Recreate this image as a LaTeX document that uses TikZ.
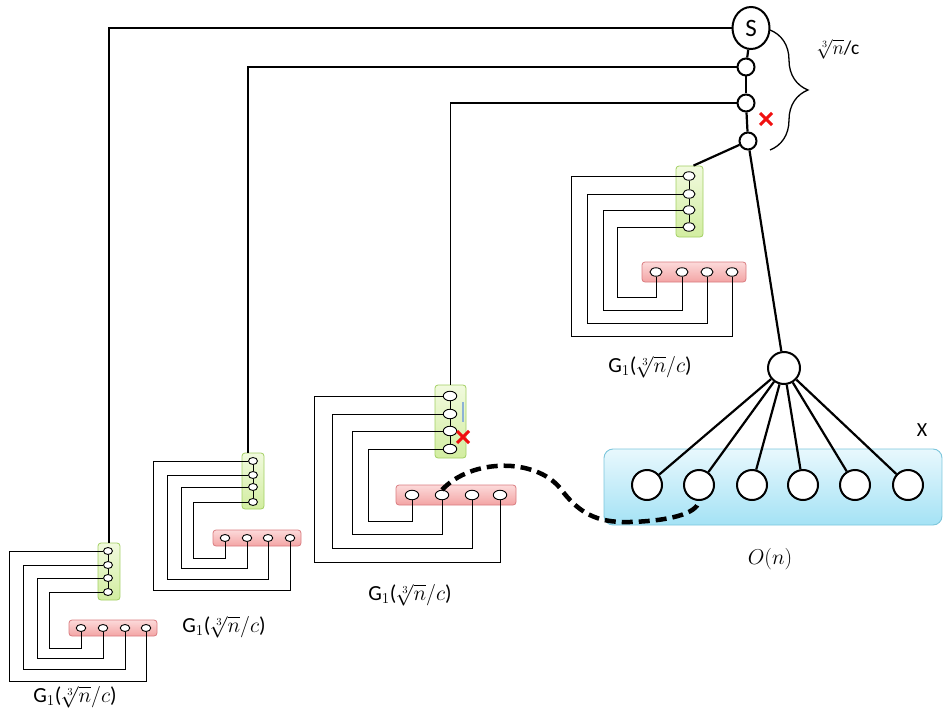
\documentclass[tikz,border=0pt]{standalone}
\usepackage{fix-cm}
\usepackage{fontspec}
\setmainfont{Carlito}
\usetikzlibrary{shapes.geometric,shapes.misc,decorations.pathreplacing}
\definecolor{gfillA}{HTML}{F1FADE}
\definecolor{gfillB}{HTML}{D2EDA0}
\definecolor{gdraw}{HTML}{A2CF62}
\definecolor{rfillA}{HTML}{FCDADA}
\definecolor{rfillB}{HTML}{F3A4A4}
\definecolor{rdraw}{HTML}{D97C80}
\definecolor{bfillA}{HTML}{E8F8FD}
\definecolor{bfillB}{HTML}{A4E2F5}
\definecolor{bdraw}{HTML}{7CC6DC}
\definecolor{xred}{HTML}{F01010}
\definecolor{thinblue}{HTML}{8EB2D6}
\tikzset{
  gbox/.style={draw=gdraw, top color=gfillA, bottom color=gfillB, rounded corners=3pt, line width=0.8pt, inner sep=0pt},
  rbox/.style={draw=rdraw, top color=rfillA, bottom color=rfillB, rounded corners=3pt, line width=0.8pt, inner sep=0pt},
  bbox/.style={draw=bdraw, top color=bfillA, bottom color=bfillB, rounded corners=9pt, line width=0.9pt, inner sep=0pt},
  ell/.style={ellipse, draw=black, fill=white, line width=0.9pt, inner sep=0pt},
  bigc/.style={circle, draw=black, fill=white, line width=2pt, inner sep=0pt},
  thinl/.style={line width=0.9pt, black},
  thickl/.style={line width=2.2pt, black},
  xmark/.style={cross out, draw=xred, line width=3pt, minimum size=9pt, inner sep=0pt},
  lbl/.style={font=\fontsize{21.5}{24}\selectfont, inner sep=0pt},
}
\begin{document}
\begin{tikzpicture}[x=1pt,y=-1pt]
\useasboundingbox (0,0) rectangle (943,717);
% ---------- blue set X ----------
\node[bbox, minimum width=338, minimum height=76] (X) at (773,487) {};
% ---------- gadgets: boxes ----------
% gadget A (top)
\node[gbox, minimum width=27, minimum height=71] (Ag) at (689.5,201.5) {};
\node[rbox, minimum width=104, minimum height=20] (Ar) at (694,272) {};
% gadget B (middle)
\node[gbox, minimum width=31, minimum height=73] (Bg) at (450.5,421.5) {};
\node[rbox, minimum width=120, minimum height=20] (Br) at (456,495) {};
% gadget C
\node[gbox, minimum width=22, minimum height=56] (Cg) at (253,481) {};
\node[rbox, minimum width=88, minimum height=16] (Cr) at (257,538) {};
% gadget D
\node[gbox, minimum width=22, minimum height=57] (Dg) at (109,571.5) {};
\node[rbox, minimum width=88, minimum height=16] (Dr) at (113,628) {};
% ---------- gadget A ellipses and loops ----------
\foreach \i/\y in {1/176,2/194,3/210,4/227}
  \node[ell, minimum width=12, minimum height=8.5] (Ag\i) at (689,\y) {};
\foreach \i/\x in {1/656,2/682,3/707,4/732}
  \node[ell, minimum width=12, minimum height=8.5] (Ar\i) at (\x,272) {};
\draw[thinl] (Ag1) -- (Ag2) (Ag2) -- (Ag3) (Ag3) -- (Ag4);
\foreach \i/\j/\lx/\ly in {1/4/571/336,2/3/587/323,3/2/603/310,4/1/617/297}
  \draw[thinl] (Ag\i.west) -| (\lx,\ly) -| (Ar\j.south);
% ---------- gadget B ----------
\foreach \i/\y in {1/396,2/414,3/431,4/449}
  \node[ell, minimum width=13.5, minimum height=9.5] (Bg\i) at (450,\y) {};
\foreach \i/\x in {1/412,2/442,3/472,4/500}
  \node[ell, minimum width=13.5, minimum height=9.5] (Br\i) at (\x,495) {};
\draw[thinl] (Bg1) -- (Bg2) (Bg2) -- (Bg3) (Bg3) -- (Bg4);
\foreach \i/\j/\lx/\ly in {1/4/314/562,2/3/332/548,3/2/352/534,4/1/368/521}
  \draw[thinl] (Bg\i.west) -| (\lx,\ly) -| (Br\j.south);
\coordinate (bl1) at (463,402);
\coordinate (bl2) at (463,422);
\draw[thinblue, line width=1.3pt] (bl1) -- (bl2);
% ---------- gadget C ----------
\foreach \i/\y in {1/461,2/475,3/487,4/502}
  \node[ell, minimum width=9, minimum height=7] (Cg\i) at (253,\y) {};
\foreach \i/\x in {1/225,2/247,3/268,4/290}
  \node[ell, minimum width=9.5, minimum height=7] (Cr\i) at (\x,538) {};
\draw[thinl] (Cg1) -- (Cg2) (Cg2) -- (Cg3) (Cg3) -- (Cg4);
\foreach \i/\j/\lx/\ly in {1/4/153/590,2/3/167/579,3/2/181/568,4/1/193/558}
  \draw[thinl] (Cg\i.west) -| (\lx,\ly) -| (Cr\j.south);
% ---------- gadget D ----------
\foreach \i/\y in {1/551,2/565,3/578,4/592}
  \node[ell, minimum width=9, minimum height=7] (Dg\i) at (108,\y) {};
\foreach \i/\x in {1/81,2/103,3/125,4/146}
  \node[ell, minimum width=9.5, minimum height=7] (Dr\i) at (\x,628) {};
\draw[thinl] (Dg1) -- (Dg2) (Dg2) -- (Dg3) (Dg3) -- (Dg4);
\foreach \i/\j/\lx/\ly in {1/4/9/681,2/3/23/669,3/2/37/658,4/1/49/648}
  \draw[thinl] (Dg\i.west) -| (\lx,\ly) -| (Dr\j.south);
% ---------- top spine ----------
\node[ellipse, draw=black, fill=white, line width=2pt, minimum width=37, minimum height=42, inner sep=0pt, font=\fontsize{25}{25}\selectfont] (S) at (751,28) {S};
\node[bigc, minimum size=17] (c1) at (746,67) {};
\node[bigc, minimum size=17] (c2) at (746,103) {};
\node[bigc, minimum size=17] (c3) at (748,141) {};
\node[bigc, minimum size=32] (hub) at (784,368) {};
\draw[thickl] (S) -- (c1);
\draw[thickl] (c1) -- (c2);
\draw[thickl] (c2) -- (c3);
\draw[thickl] (c3) -- ([xshift=4pt]Ag.north);
\draw[thickl] (c3) -- (hub);
\draw[line width=1.8pt] (S.west) -| (Dg.north);
\draw[line width=1.8pt] (c1.west) -| ([xshift=-5pt]Cg.north);
\draw[line width=1.8pt] (c2.west) -| (Bg.north);
% ---------- X circles ----------
\foreach \i/\x in {1/647,2/699,3/752,4/803,5/855,6/908}
  \node[bigc, minimum size=30] (x\i) at (\x,485) {};
\foreach \i in {1,...,6}
  \draw[thickl] (hub) -- (x\i);
% ---------- dashed connection ----------
\draw[line width=4.5pt, dash pattern=on 11pt off 6pt] (Br2.north) .. controls (472,458) and (535,458) .. (560,488) .. controls (578,512) and (595,523) .. (630,522) .. controls (668,521) and (697,514) .. (x2.south);
% ---------- red marks ----------
\node[xmark] (m1) at (766,119) {};
\node[xmark] (m2) at (463,437) {};
% ---------- brace ----------
\coordinate (bt) at (770,30);
\coordinate (bb) at (770,150);
\draw[line width=1.3pt, decorate, decoration={brace, amplitude=38pt}] (bt) -- (bb);
% ---------- labels ----------
\node[font=\fontsize{19.5}{22}\selectfont, inner sep=0pt] (blab) at (838,49) {$\sqrt[3]{n}$/c};
\node[lbl] (lA) at (650,367) {G$_1$($\sqrt[3]{n}/c$)};
\node[lbl] (lB) at (410,595) {G$_1$($\sqrt[3]{n}/c$)};
\node[lbl] (lC) at (224,627) {G$_1$($\sqrt[3]{n}/c$)};
\node[lbl] (lD) at (75,697) {G$_1$($\sqrt[3]{n}/c$)};
\node[font=\fontsize{20}{22}\selectfont, inner sep=0pt] (lX) at (922,430) {X};
\node[lbl] (lO) at (770,559) {$O(n)$};
\end{tikzpicture}
\end{document}
